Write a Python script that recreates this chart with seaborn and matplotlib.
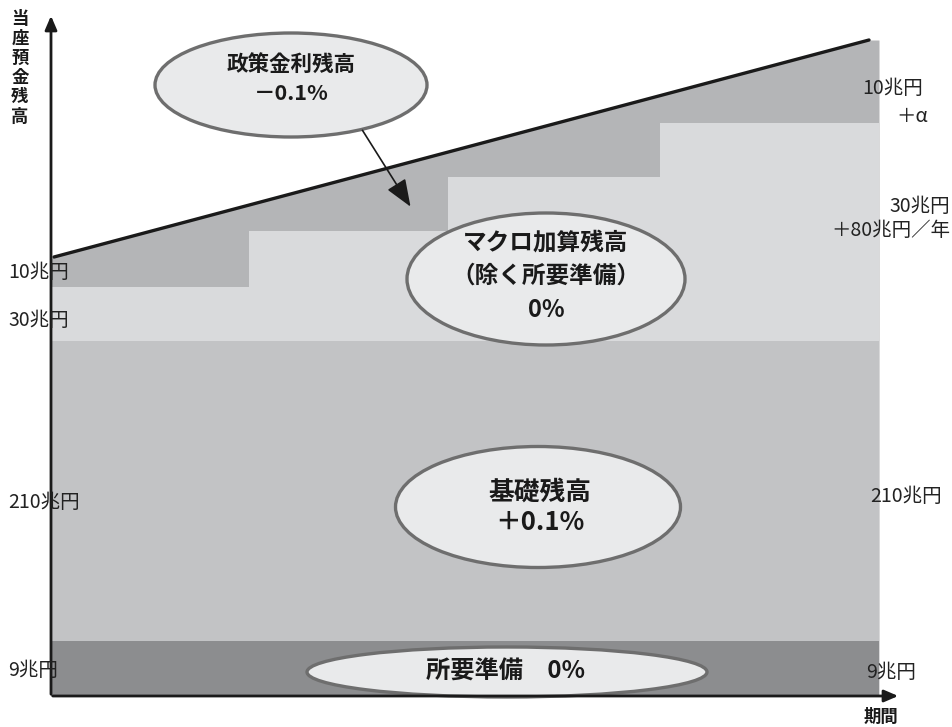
import numpy as np
import pandas as pd
import seaborn as sns
import matplotlib.pyplot as plt
from matplotlib.patches import Ellipse

# values in chart units (1 unit = 1 pixel of the original diagram)
step_x = [0, 198, 397, 609, 828]
required_top = 55        # 所要準備 9兆円
basic_top = 355          # 基礎残高 210兆円
macro_top = [409, 465, 519, 573]   # マクロ加算残高, one step per year
policy_x = [0, 818, 828]
policy_top = [438, 656, 656]        # 政策金利残高 upper edge
line_x = [3, 818]
line_y = [439, 656]

left_labels = ["10兆円", "30兆円", "210兆円", "9兆円"]
right_labels = ["10兆円", "＋α", "30兆円", "＋80兆円／年", "210兆円", "9兆円"]

C_REQ = "#8c8d8f"
C_BASIC = "#c2c3c5"
C_MACRO = "#d9dadc"
C_POLICY = "#b4b5b7"
C_ELL = "#e9eaeb"
C_EDGE = "#6e6e6e"


def bubble(ax, xy, w, h):
    ax.add_patch(Ellipse(xy, w, h, facecolor=C_ELL, edgecolor=C_EDGE, lw=2.4, zorder=5))


def main():
    sns.set_theme(style="white")
    plt.rcParams['font.family'] = ['Noto Sans CJK JP', 'DejaVu Sans']

    fig = plt.figure(figsize=(9.52, 7.27), dpi=100)
    ax = fig.add_axes([0, 0, 1, 1])
    ax.set_xlim(-51, 901)
    ax.set_ylim(-31, 696)
    ax.axis("off")

    # stacked bands, drawn back to front
    ax.fill_between(policy_x, policy_top, 0, color=C_POLICY, lw=0, zorder=1)
    ax.fill_between(step_x, macro_top + [macro_top[-1]], 0, step="post", color=C_MACRO, lw=0, zorder=2)
    ax.fill_between([0, step_x[-1]], basic_top, 0, color=C_BASIC, lw=0, zorder=3)
    ax.fill_between([0, step_x[-1]], required_top, 0, color=C_REQ, lw=0, zorder=3)

    df = pd.DataFrame({"x": line_x, "y": line_y})
    sns.lineplot(data=df, x="x", y="y", color="#1a1a1a", lw=2.4, ax=ax, zorder=4)

    # axes with arrows
    ax.annotate("", xy=(0, 683), xytext=(0, -1),
                arrowprops=dict(arrowstyle="-|>,head_length=0.7,head_width=0.3", lw=2, color="#1a1a1a"), zorder=6)
    ax.annotate("", xy=(850, 0), xytext=(-1, 0),
                arrowprops=dict(arrowstyle="-|>,head_length=0.7,head_width=0.3", lw=2, color="#1a1a1a"), zorder=6)

    # bubbles
    bubble(ax, (240, 611), 272, 104)
    bubble(ax, (495, 417), 278, 132)
    bubble(ax, (487, 189), 285, 121)
    bubble(ax, (456, 24), 400, 50)

    ax.annotate("", xy=(361, 487), xytext=(310, 568),
                arrowprops=dict(arrowstyle="-|>,head_length=1.4,head_width=0.55", lw=1.2, color="#1a1a1a"), zorder=6)

    tk = dict(ha="center", va="center", fontweight="bold", color="#1a1a1a", zorder=7)
    ax.text(240, 632, "政策金利残高", fontsize=15.5, **tk)
    ax.text(240, 603, "－0.1%", fontsize=15.5, **tk)
    ax.text(495, 453, "マクロ加算残高", fontsize=17, **tk)
    ax.text(495, 420, "（除く所要準備）", fontsize=17, **tk)
    ax.text(495, 386, "0%", fontsize=17, **tk)
    ax.text(489, 204, "基礎残高", fontsize=18.5, **tk)
    ax.text(489, 173, "＋0.1%", fontsize=18.5, **tk)
    ax.text(454, 24, "所要準備　0%", fontsize=17.5, **tk)

    # side labels
    lk = dict(va="center", fontsize=14, color="#222222", zorder=8)
    for lab, y in zip(left_labels, [423, 376, 193, 26]):
        ax.text(-43, y, lab, ha="left", **lk)
    rpos = [(811, 607, "left"), (845, 579, "left"), (899, 490, "right"),
            (899, 465, "right"), (819, 199, "left"), (815, 24, "left")]
    for lab, (x, y, ha) in zip(right_labels, rpos):
        ax.text(x, y, lab, ha=ha, **lk)

    # axis titles
    ax.text(-31, 628, "\n".join("当座預金残高"), ha="center", va="center",
            fontsize=12.5, fontweight="bold", linespacing=1.1, color="#1a1a1a")
    ax.text(830, -21, "期間", ha="center", va="center", fontsize=12.5, fontweight="bold", color="#1a1a1a")

    fig.savefig("out.png", dpi=100)


if __name__ == "__main__":
    main()
